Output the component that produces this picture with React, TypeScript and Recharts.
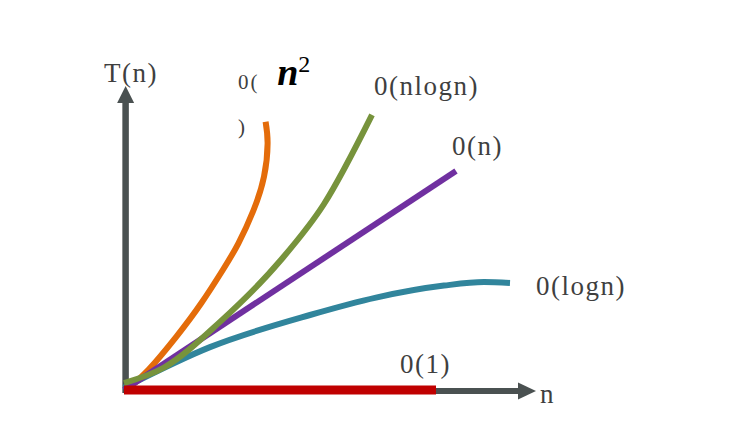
import { LineChart, Line, XAxis, YAxis, ReferenceLine, ReferenceDot } from 'recharts';

// complexity curves, n on x, T(n) on y (arbitrary units)
const constantN = [0, 78];
const constantT = [0, 0];
const logN = [0, 21.5, 46.5, 63, 80, 90, 96.5];
const logT = [0.8, 14.3, 25, 30.8, 34.8, 36, 35.7];
const linearN = [0, 83];
const linearT = [0, 73];
const nlognN = [0, 10, 24, 39, 50, 62];
const nlognT = [2.3, 7.5, 22.7, 43, 62, 91.7];
const squareN = [1.5, 6.1, 13.1, 19.3, 24.7, 28.6, 32.4, 35, 35.9, 35.4];
const squareT = [1, 6.7, 17.8, 28.9, 40, 48.9, 60, 71.1, 82.2, 89.4];

const toPoints = (n: number[], t: number[]) => n.map((v, i) => ({ n: v, T: t[i] }));

const AXIS = '#4a5151';
const TEXT = '#3f3f3f';
const FONT = "'Liberation Serif', 'DejaVu Serif', serif";

const textShape = (value: string, size = 27, spacing = 1.5) => (p: any) => (
  <text x={p.cx} y={p.cy} fill={TEXT} fontFamily={FONT} fontSize={size} letterSpacing={spacing}>
    {value}
  </text>
);

const arrowRight = (p: any) => (
  <polygon points={`${p.cx},${p.cy} ${p.cx - 18},${p.cy - 8.5} ${p.cx - 18},${p.cy + 8.5}`} fill={AXIS} />
);

const arrowUp = (p: any) => (
  <polygon points={`${p.cx},${p.cy} ${p.cx - 8.5},${p.cy + 17} ${p.cx + 8.5},${p.cy + 17}`} fill={AXIS} />
);

const squareLabel = (p: any) => (
  <text x={p.cx} y={p.cy} fill="#000" fontFamily={FONT} fontSize={38} fontStyle="italic" fontWeight="bold">
    n
    <tspan dy={-13} fontSize={24} fontStyle="normal" fontWeight="normal">2</tspan>
  </text>
);

export default function App() {
  return (
    <div style={{ position: 'absolute', left: 0, top: 0, width: 732, height: 439, background: '#fff' }}>
      <LineChart width={732} height={439} margin={{ top: 15, right: 8, bottom: 4, left: 4 }}>
        <XAxis type="number" dataKey="n" domain={[-30, 150]} allowDataOverflow hide />
        <YAxis type="number" dataKey="T" domain={[-15, 125]} allowDataOverflow hide />

        <ReferenceLine segment={[{ x: 0, y: -0.3 }, { x: 98.5, y: -0.3 }]} stroke={AXIS} strokeWidth={6} />
        <ReferenceLine segment={[{ x: 0.4, y: -1 }, { x: 0.4, y: 96 }]} stroke={AXIS} strokeWidth={6.5} />
        <ReferenceDot x={103} y={-0.3} r={0} shape={arrowRight} />
        <ReferenceDot x={0.4} y={101.3} r={0} shape={arrowUp} />

        <Line data={toPoints(squareN, squareT)} dataKey="T" type="natural" stroke="#e46c0a" strokeWidth={6} dot={false} activeDot={false} isAnimationActive={false} />
        <Line data={toPoints(logN, logT)} dataKey="T" type="monotoneX" stroke="#31859c" strokeWidth={6} dot={false} activeDot={false} isAnimationActive={false} />
        <Line data={toPoints(linearN, linearT)} dataKey="T" type="linear" stroke="#7030a0" strokeWidth={6} dot={false} activeDot={false} isAnimationActive={false} />
        <Line data={toPoints(nlognN, nlognT)} dataKey="T" type="monotoneX" stroke="#77933c" strokeWidth={6} dot={false} activeDot={false} isAnimationActive={false} />
        <Line data={toPoints(constantN, constantT)} dataKey="T" type="linear" stroke="#c00000" strokeWidth={9} dot={false} activeDot={false} isAnimationActive={false} />

        <ReferenceDot x={-5} y={102.7} r={0} shape={textShape('T(n)')} />
        <ReferenceDot x={28.5} y={100.5} r={0} shape={textShape('0(', 21, 2)} />
        <ReferenceDot x={38.3} y={101.7} r={0} shape={squareLabel} />
        <ReferenceDot x={28.5} y={85.3} r={0} shape={textShape(')', 21, 0)} />
        <ReferenceDot x={62.5} y={98.3} r={0} shape={textShape('0(nlogn)')} />
        <ReferenceDot x={82} y={78.3} r={0} shape={textShape('0(n)')} />
        <ReferenceDot x={103} y={31.7} r={0} shape={textShape('0(logn)')} />
        <ReferenceDot x={69} y={5.7} r={0} shape={textShape('0(1)')} />
        <ReferenceDot x={104} y={-4.3} r={0} shape={textShape('n', 27, 0)} />
      </LineChart>
    </div>
  );
}
